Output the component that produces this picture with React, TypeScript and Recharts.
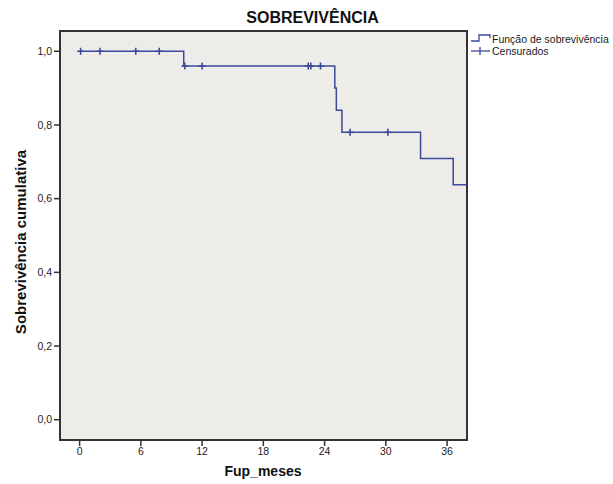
import React from 'react';
import { ComposedChart, Line, Scatter, XAxis, YAxis, ReferenceArea } from 'recharts';

const stepTimes = [0, 10.2, 25.0, 25.15, 25.7, 33.4, 36.6, 37.95];
const stepSurvival = [1.0, 0.96, 0.9, 0.84, 0.78, 0.709, 0.638, 0.638];
const censoredTimes = [0.1, 2.0, 5.5, 7.8, 10.3, 12.0, 22.4, 22.65, 23.6, 26.5, 30.2];
const censoredSurvival = [1, 1, 1, 1, 0.96, 0.96, 0.96, 0.96, 0.96, 0.78, 0.78];
const xTicks = [0, 6, 12, 18, 24, 30, 36];
const yTicks = [0, 0.2, 0.4, 0.6, 0.8, 1.0];

const curveData = stepTimes.map((t, i) => ({ t, s: stepSurvival[i] }));
const censData = censoredTimes.map((t, i) => ({ t, s: censoredSurvival[i] }));

const LINE = '#3B4A9A';
const FONT = 'Arial, "Liberation Sans", sans-serif';
const XMIN = -1.92;
const XMAX = 37.95;
const YMIN = -0.055;
const YMAX = 1.055;

const Plus = (props: any) => {
  const { cx, cy } = props;
  if (cx == null || cy == null) return null;
  return (
    <g>
      <line x1={cx} y1={cy - 3.5} x2={cx} y2={cy + 3.5} stroke={LINE} strokeWidth={1.6} />
      <line x1={cx - 3.5} y1={cy} x2={cx + 3.5} y2={cy} stroke={LINE} strokeWidth={1.5} />
    </g>
  );
};

export default function App() {
  return (
    <div style={{ position: 'absolute', left: 0, top: 0, width: 613, height: 484, background: '#fff', fontFamily: FONT }}>
      <ComposedChart width={613} height={484} margin={{ top: 31, right: 146, bottom: 0, left: 0 }}>
        <ReferenceArea
          x1={XMIN}
          x2={XMAX}
          y1={YMIN}
          y2={YMAX}
          fill="#EEECE8"
          fillOpacity={1}
          stroke="#333"
          strokeWidth={2}
          ifOverflow="visible"
        />
        <XAxis
          dataKey="t"
          type="number"
          domain={[XMIN, XMAX]}
          ticks={xTicks}
          allowDataOverflow
          height={44}
          axisLine={false}
          tickLine={{ stroke: '#333', strokeWidth: 1.5 }}
          tickSize={6}
          tick={{ fontSize: 10.5, fill: '#222', fontFamily: FONT }}
        />
        <YAxis
          type="number"
          domain={[YMIN, YMAX]}
          ticks={yTicks}
          allowDataOverflow
          width={60}
          axisLine={false}
          tickLine={{ stroke: '#333', strokeWidth: 1.5 }}
          tickSize={6}
          tickFormatter={(v: number) => v.toFixed(1).replace('.', ',')}
          tick={{ fontSize: 10.5, fill: '#222', fontFamily: FONT }}
        />
        <Line
          data={curveData}
          dataKey="s"
          type="stepAfter"
          stroke={LINE}
          strokeWidth={1.5}
          dot={false}
          activeDot={false}
          isAnimationActive={false}
        />
        <Scatter data={censData} dataKey="s" shape={<Plus />} isAnimationActive={false} />
      </ComposedChart>

      <div style={{ position: 'absolute', left: 245, top: 9, width: 135, textAlign: 'center', fontSize: 16, fontWeight: 'bold', color: '#111', whiteSpace: 'nowrap' }}>
        SOBREVIVÊNCIA
      </div>

      <div style={{ position: 'absolute', left: 163, top: 463, width: 200, textAlign: 'center', fontSize: 14, fontWeight: 'bold', color: '#111' }}>
        Fup_meses
      </div>

      <div
        style={{
          position: 'absolute',
          left: 20,
          top: 242,
          width: 0,
          height: 0,
        }}
      >
        <div
          style={{
            position: 'absolute',
            transform: 'translate(-50%, -50%) rotate(-90deg)',
            fontSize: 15,
            fontWeight: 'bold',
            color: '#111',
            whiteSpace: 'nowrap',
          }}
        >
          Sobrevivência cumulativa
        </div>
      </div>

      <div style={{ position: 'absolute', left: 470, top: 33, fontSize: 10.5, color: '#1a1a1a', whiteSpace: 'nowrap' }}>
        <div style={{ display: 'flex', alignItems: 'center', height: 12 }}>
          <svg width={22} height={12}>
            <polyline points="1,8 9,8 9,2 20,2 20,5" fill="none" stroke={LINE} strokeWidth={1.3} />
          </svg>
          <span>Função de sobrevivência</span>
        </div>
        <div style={{ display: 'flex', alignItems: 'center', height: 12 }}>
          <svg width={22} height={12}>
            <line x1={1} y1={6} x2={20} y2={6} stroke={LINE} strokeWidth={1.3} />
            <line x1={10} y1={2} x2={10} y2={10} stroke={LINE} strokeWidth={1.3} />
          </svg>
          <span>Censurados</span>
        </div>
      </div>
    </div>
  );
}
